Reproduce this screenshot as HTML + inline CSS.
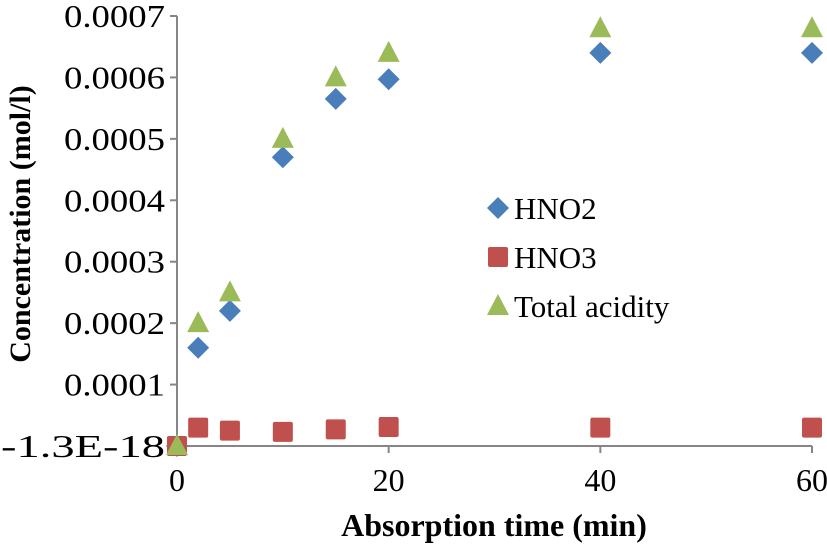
<!DOCTYPE html>
<html><head><meta charset="utf-8"><style>
body{margin:0;background:#fff;}
svg{display:block;font-family:"Liberation Serif",serif;}
</style></head><body>
<svg id="c" width="827" height="549"></svg>
<script>
const xVals=[0,2,5,10,15,20,40,60];
const hno2=[0,0.00016,0.00022,0.00047,0.000565,0.000597,0.00064,0.00064];
const hno3=[0,0.000030,0.000025,0.000023,0.000027,0.000031,0.00003,0.00003];
const total=[0,0.0002,0.00025,0.0005,0.0006,0.00064,0.00068,0.00068];
const yTicks=[0,0.0001,0.0002,0.0003,0.0004,0.0005,0.0006,0.0007];
const yLabels=["-1.3E-18","0.0001","0.0002","0.0003","0.0004","0.0005","0.0006","0.0007"];
const xTicks=[0,20,40,60];
const NS="http://www.w3.org/2000/svg";
const svg=document.getElementById('c');
const X0=177,X1=812,Y0=446,Y1=16;
const sx=v=>X0+(X1-X0)*v/60;
const sy=v=>Y0-(Y0-Y1)*v/0.0007;
function mk(t,a,p){const e=document.createElementNS(NS,t);for(const k in a)e.setAttribute(k,a[k]);(p||svg).appendChild(e);return e;}
let e;
e=mk('line',{x1:X0,y1:Y1,x2:X0,y2:Y0,stroke:'#868686','stroke-width':2});


e=mk('line',{x1:X0,y1:Y0,x2:X1,y2:Y0,stroke:'#868686','stroke-width':2});


yTicks.forEach((v,i)=>{
  mk('line',{x1:X0-7,y1:sy(v),x2:X0,y2:sy(v),stroke:'#868686','stroke-width':2});
  const tl=yLabels[i].length>6?164:101;
  e=mk('text',{x:X0-12,y:sy(v)+11,'text-anchor':'end','font-size':32,fill:'#000',textLength:tl,lengthAdjust:'spacingAndGlyphs'});
  e.textContent=yLabels[i];
  
  
});
xTicks.forEach(v=>{
  mk('line',{x1:sx(v),y1:Y0,x2:sx(v),y2:Y0+7,stroke:'#868686','stroke-width':2});
  e=mk('text',{x:sx(v),y:Y0+45,'text-anchor':'middle','font-size':32,fill:'#000'});
  e.textContent=v;
  
  
});
e=mk('text',{x:494,y:536,'text-anchor':'middle','font-size':32,'font-weight':'bold'});
e.textContent='Absorption time (min)';


e=mk('text',{x:0,y:0,'text-anchor':'middle','font-size':30,'font-weight':'bold',transform:'translate(30,224) rotate(-90)'});
e.textContent='Concentration (mol/l)';


function diamond(x,y,p){return mk('polygon',{points:`${x},${y-11} ${x+11},${y} ${x},${y+11} ${x-11},${y}`,fill:'#4a7ebb'},p);}
function square(x,y,p){return mk('rect',{x:x-10,y:y-10,width:20,height:20,rx:2,fill:'#c0504d'},p);}
function tri(x,y,p){return mk('polygon',{points:`${x},${y-12} ${x+11},${y+9} ${x-11},${y+9}`,fill:'#9bbb59'},p);}
const g2=mk('g',{});
const g3=mk('g',{});
const gt=mk('g',{});
xVals.forEach((x,i)=>{
  e=diamond(sx(x),sy(hno2[i]),g2);
  
  
});
xVals.forEach((x,i)=>{
  e=square(sx(x),sy(hno3[i]),g3);
  
  
});
xVals.forEach((x,i)=>{
  e=tri(sx(x),sy(total[i]),gt);
  
  
});
const lg=mk('g',{});
const items=[['HNO2',diamond,208],['HNO3',square,257],['Total acidity',tri,306]];
items.forEach(([t,f,y])=>{
  f(498,y,lg);
  e=mk('text',{x:514,y:y+11,'font-size':31},lg);
  e.textContent=t;
  
  
});
</script>
</body></html>
